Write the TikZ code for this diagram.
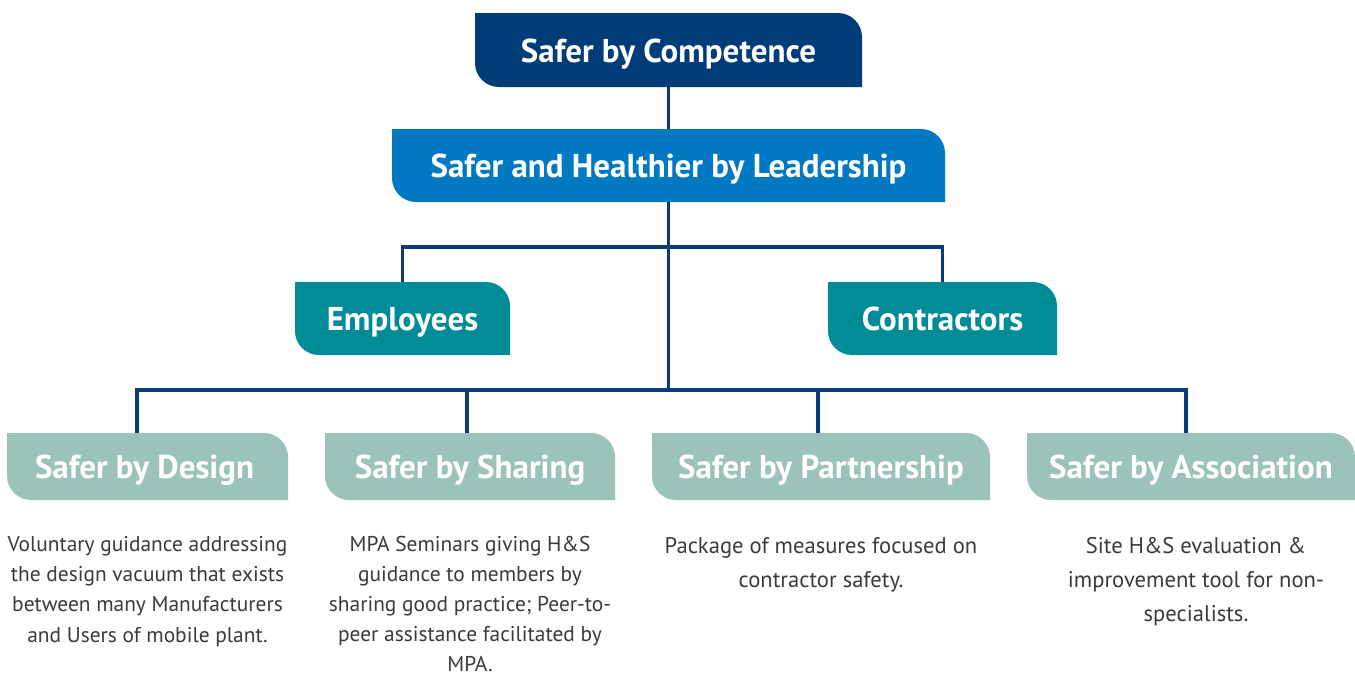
\documentclass[tikz,border=0pt]{standalone}
\usepackage{fontspec}
\setmainfont{PT Sans}
\definecolor{navy}{HTML}{003C78}
\definecolor{lblue}{HTML}{0079C2}
\definecolor{teal2}{HTML}{008C96}
\definecolor{sage}{HTML}{9BC3B9}
\definecolor{linec}{HTML}{0B3B77}
\definecolor{bodyc}{HTML}{3A3A3A}
\tikzset{
  leaf/.style={rectangle, inner sep=0pt, text=white, font=\bfseries\fontsize{33}{38}\selectfont,
    text height=27.5pt, text depth=3.3pt,
    path picture={
      \fill[#1] (path picture bounding box.north west)
        -- ([xshift=-24pt]path picture bounding box.north east)
        arc[start angle=90,end angle=0,radius=24pt]
        -- (path picture bounding box.south east)
        -- ([xshift=24pt]path picture bounding box.south west)
        arc[start angle=270,end angle=180,radius=24pt] -- cycle;
    }},
  conn/.style={draw=linec, line width=3.6pt},
  desc/.style={anchor=north, align=center, text=bodyc, inner sep=0pt}
}
\begin{document}
\begin{tikzpicture}[x=1pt,y=-1pt]
\useasboundingbox (0,0) rectangle (1355,673);
\coordinate (j1) at (668.5,247);
\coordinate (j2) at (668.5,390);
\node[leaf=navy, minimum width=387pt, minimum height=74pt] (top) at (668.5,50) {Safer by Competence};
\node[leaf=lblue, minimum width=553pt, minimum height=73pt] (lead) at (668.5,165.5) {Safer and Healthier by Leadership};
\node[leaf=teal2, minimum width=215pt, minimum height=73pt] (emp) at (402.5,318.5) {Employees};
\node[leaf=teal2, minimum width=229pt, minimum height=73pt] (con) at (942.5,318.5) {Contractors};
\node[leaf=sage, minimum width=281pt, minimum height=67pt] (des) at (147.5,466.5) {\hspace*{-6pt}Safer by Design};
\node[leaf=sage, minimum width=290pt, minimum height=67pt] (sha) at (470,466.5) {Safer by Sharing};
\node[leaf=sage, minimum width=338pt, minimum height=67pt] (par) at (821,466.5) {Safer by Partnership};
\node[leaf=sage, minimum width=328pt, minimum height=67pt] (ass) at (1191,466.5) {Safer by Association};

\draw[conn] (top.south) -- (lead.north);
\draw[conn] (lead.south) -- (j2);
\draw[conn] (emp.north) -- (emp.north |- j1) -- (con.north |- j1) -- (con.north);
\draw[conn] ([xshift=-10.5pt]des.north) -- ([xshift=-10.5pt]des.north |- j2)
  -- ([xshift=-5pt]ass.north |- j2) -- ([xshift=-5pt]ass.north);
\draw[conn] ([xshift=-3pt]sha.north |- j2) -- ([xshift=-3pt]sha.north);
\draw[conn] ([xshift=-3pt]par.north |- j2) -- ([xshift=-3pt]par.north);

\node[desc, font=\fontsize{21.4}{30.3}\selectfont] (dtxt) at (147.5,536) {Voluntary guidance addressing\\the design vacuum that exists\\between many Manufacturers\\and Users of mobile plant.};
\node[desc, font=\fontsize{21.4}{30.1}\selectfont] (stxt) at (470,536) {MPA Seminars giving H\&S\\guidance to members by\\sharing good practice; Peer-to-\\peer assistance facilitated by\\MPA.};
\node[desc, font=\fontsize{22.6}{34}\selectfont] (ptxt) at (821,537) {Package of measures focused on\\contractor safety.};
\node[desc, font=\fontsize{22.6}{34}\selectfont] (atxt) at (1196,537) {Site H\&S evaluation \&\\improvement tool for non-\\specialists.};
\end{tikzpicture}
\end{document}
